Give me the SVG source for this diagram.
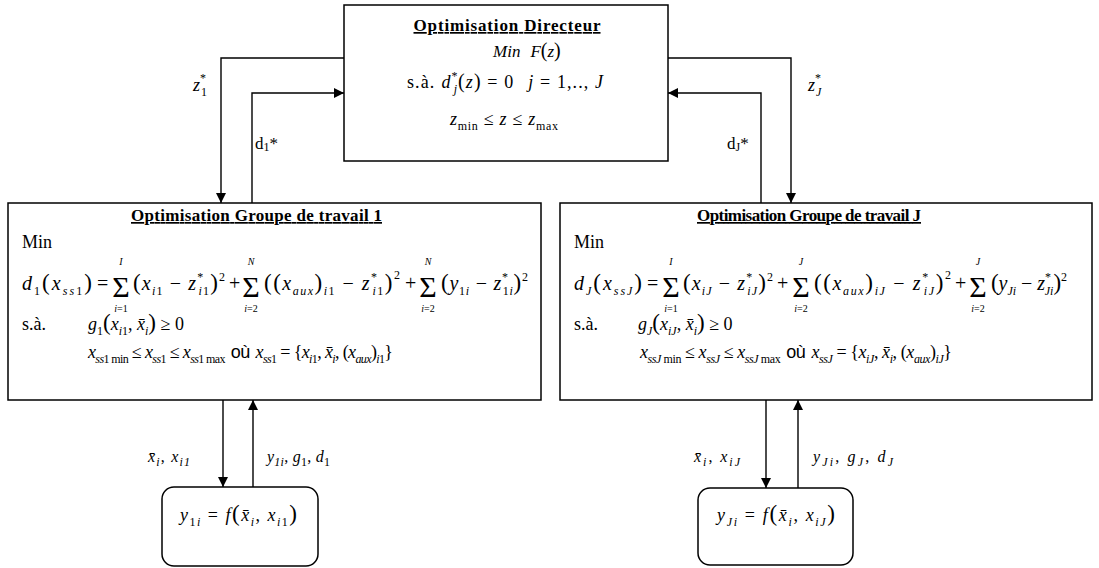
<svg xmlns="http://www.w3.org/2000/svg" width="1099" height="568" viewBox="0 0 1099 568">
<style>
text{font-family:"Liberation Serif","Times New Roman",serif;fill:#000}
.i{font-style:italic}
.m{font-size:20px}
.sb{font-size:12px}
.sp{font-size:12px}
.p{font-size:23px}
.sig{font-size:30px}
.lim{font-size:10px}
.ti{font-size:17px;font-weight:bold;text-decoration:underline}
.box{fill:#fff;stroke:#000;stroke-width:1.5}
.ln{fill:none;stroke:#000;stroke-width:1.4}
.sans{font-family:"Liberation Sans",Arial,sans-serif}
</style>
<defs>
<marker id="ah" markerUnits="userSpaceOnUse" markerWidth="10" markerHeight="10" refX="10" refY="5" orient="auto">
<path d="M0,0 L10,5 L0,10 z" fill="#000"/>
</marker>
</defs>
<rect width="1099" height="568" fill="#fff"/>

<g id="connectors">
<path class="ln" d="M344,58 H221 V203" marker-end="url(#ah)"/>
<path class="ln" d="M252,203 V93 H344" marker-end="url(#ah)"/>
<path class="ln" d="M668,58 H791 V203" marker-end="url(#ah)"/>
<path class="ln" d="M761,203 V93 H668" marker-end="url(#ah)"/>
<path class="ln" d="M223,400 V487" marker-end="url(#ah)"/>
<path class="ln" d="M253,487 V400" marker-end="url(#ah)"/>
<path class="ln" d="M766,400 V488" marker-end="url(#ah)"/>
<path class="ln" d="M798,488 V400" marker-end="url(#ah)"/>
<text x="193" y="91" class="i" font-size="18">z<tspan class="sp" dy="-9" font-style="normal">*</tspan><tspan class="sb" dx="-5" dy="14" font-style="normal">1</tspan></text>
<text x="255" y="149" font-size="17">d<tspan font-size="12" dy="2">1</tspan><tspan dy="-2">*</tspan></text>
<text x="808" y="91" class="i" font-size="18">z<tspan class="sp" dy="-9" font-style="normal">*</tspan><tspan class="sb" dx="-5" dy="14">J</tspan></text>
<text x="727" y="149" font-size="17">d<tspan font-size="12" dy="2">J</tspan><tspan dy="-2">*</tspan></text>
<text x="148" y="462" font-size="16" class="i" textLength="42" lengthAdjust="spacing">x̄<tspan class="sb" dy="4">i</tspan><tspan dy="-4" font-style="normal">, </tspan>x<tspan class="sb" dy="4">i1</tspan></text>
<text x="267" y="462" font-size="16" class="i" textLength="63" lengthAdjust="spacing">y<tspan class="sb" dy="4">1i</tspan><tspan dy="-4" font-style="normal">, </tspan>g<tspan class="sb" dy="4" font-style="normal">1</tspan><tspan dy="-4" font-style="normal">, </tspan>d<tspan class="sb" dy="4" font-style="normal">1</tspan></text>
<text x="694" y="462" font-size="16" class="i" textLength="46" lengthAdjust="spacing">x̄<tspan class="sb" dy="4">i</tspan><tspan dy="-4" font-style="normal">, </tspan>x<tspan class="sb" dy="4">iJ</tspan></text>
<text x="813" y="462" font-size="16" class="i" textLength="80" lengthAdjust="spacing">y<tspan class="sb" dy="4">Ji</tspan><tspan dy="-4" font-style="normal">, </tspan>g<tspan class="sb" dy="4">J</tspan><tspan dy="-4" font-style="normal">, </tspan>d<tspan class="sb" dy="4">J</tspan></text>
</g>

<g id="directeur">
<rect class="box" x="344" y="5" width="324" height="156"/>
<text class="ti" x="507" y="31" text-anchor="middle" textLength="187" lengthAdjust="spacing">Optimisation Directeur</text>
<text x="493" y="57" font-size="17"><tspan class="i">Min</tspan><tspan class="i" dx="10">F</tspan><tspan font-size="20">(</tspan><tspan class="i">z</tspan><tspan font-size="20">)</tspan></text>
<text x="407" y="88" font-size="18" textLength="196" lengthAdjust="spacing">s.à.<tspan class="i" dx="6">d</tspan><tspan class="sp" dy="-8">*</tspan><tspan class="sb i" dx="-5" dy="13">j</tspan><tspan dy="-5" font-size="20">(</tspan><tspan class="i">z</tspan><tspan font-size="20">)</tspan> = 0<tspan class="i" dx="14">j</tspan> = 1,.., <tspan class="i">J</tspan></text>
<text x="450" y="125" font-size="18" textLength="108" lengthAdjust="spacing"><tspan class="i">z</tspan><tspan class="sb" dy="5">min</tspan><tspan dy="-5"> ≤ </tspan><tspan class="i">z</tspan> ≤ <tspan class="i">z</tspan><tspan class="sb" dy="5">max</tspan></text>
</g>

<g id="groupe1">
<rect class="box" x="8" y="203" width="533" height="197"/>
<text class="ti" x="131" y="221" textLength="251" lengthAdjust="spacing">Optimisation Groupe de travail 1</text>
<text x="22" y="248" font-size="18">Min</text>
<text x="22" y="290" class="m" textLength="70" lengthAdjust="spacing"><tspan class="i">d</tspan><tspan class="sb" dy="5">1</tspan><tspan class="p" dy="-5">(</tspan><tspan class="i">x</tspan><tspan class="sb i" dy="5">ss</tspan><tspan class="sb">1</tspan><tspan class="p" dy="-5">)</tspan></text>
<text x="97" y="290" class="m">=</text>
<text x="121" y="297" class="sig" text-anchor="middle">Σ</text>
<text x="121" y="265" class="lim i" text-anchor="middle">I</text>
<text x="121" y="312" class="lim" text-anchor="middle"><tspan class="i">i</tspan>=1</text>
<text x="133" y="290" class="m" textLength="92" lengthAdjust="spacing"><tspan class="p">(</tspan><tspan class="i">x</tspan><tspan class="sb i" dy="5">i</tspan><tspan class="sb">1</tspan><tspan dy="-5"> − </tspan><tspan class="i">z</tspan><tspan class="sp" dy="-9">*</tspan><tspan class="sb i" dx="-6" dy="14">i</tspan><tspan class="sb">1</tspan><tspan class="p" dy="-5">)</tspan><tspan class="sp" dy="-9">2</tspan></text>
<text x="229" y="290" class="m">+</text>
<text x="251" y="297" class="sig" text-anchor="middle">Σ</text>
<text x="251" y="265" class="lim i" text-anchor="middle">N</text>
<text x="251" y="312" class="lim" text-anchor="middle"><tspan class="i">i</tspan>=2</text>
<text x="264" y="290" class="m" textLength="136" lengthAdjust="spacing"><tspan class="p">((</tspan><tspan class="i">x</tspan><tspan class="sb i" dy="5">aux</tspan><tspan class="p" dy="-5">)</tspan><tspan class="sb i" dy="5">i</tspan><tspan class="sb">1</tspan><tspan dy="-5"> − </tspan><tspan class="i">z</tspan><tspan class="sp" dy="-9">*</tspan><tspan class="sb i" dx="-6" dy="14">i</tspan><tspan class="sb">1</tspan><tspan class="p" dy="-5">)</tspan><tspan class="sp" dy="-11">2</tspan></text>
<text x="405" y="290" class="m">+</text>
<text x="428" y="297" class="sig" text-anchor="middle">Σ</text>
<text x="428" y="265" class="lim i" text-anchor="middle">N</text>
<text x="428" y="312" class="lim" text-anchor="middle"><tspan class="i">i</tspan>=2</text>
<text x="441" y="290" class="m" textLength="87" lengthAdjust="spacing"><tspan class="p">(</tspan><tspan class="i">y</tspan><tspan class="sb" dy="5">1</tspan><tspan class="sb i">i</tspan><tspan dy="-5"> − </tspan><tspan class="i">z</tspan><tspan class="sp" dy="-9">*</tspan><tspan class="sb" dx="-6" dy="14">1</tspan><tspan class="sb i">i</tspan><tspan class="p" dy="-5">)</tspan><tspan class="sp" dy="-9">2</tspan></text>
<text x="22" y="330" font-size="18">s.à.</text>
<text x="88" y="330" font-size="18"><tspan class="i">g</tspan><tspan class="sb" dy="5">1</tspan><tspan class="p" dy="-5">(</tspan><tspan class="i">x</tspan><tspan class="sb i" dy="5">i</tspan><tspan class="sb">1</tspan><tspan dy="-5">, </tspan><tspan class="i">x̄</tspan><tspan class="sb i" dy="5">i</tspan><tspan class="p" dy="-5">)</tspan> ≥ 0</text>
<text x="88" y="358" font-size="18" textLength="305" lengthAdjust="spacing"><tspan class="i">x</tspan><tspan class="sb i" dy="5">ss</tspan><tspan class="sb">1 min</tspan><tspan dy="-5"> ≤ </tspan><tspan class="i">x</tspan><tspan class="sb i" dy="5">ss</tspan><tspan class="sb">1</tspan><tspan dy="-5"> ≤ </tspan><tspan class="i">x</tspan><tspan class="sb i" dy="5">ss</tspan><tspan class="sb">1 max</tspan><tspan class="sans" dy="-5" dx="6">où</tspan><tspan class="i" dx="6">x</tspan><tspan class="sb i" dy="5">ss</tspan><tspan class="sb">1</tspan><tspan dy="-5"> = {</tspan><tspan class="i">x</tspan><tspan class="sb i" dy="5">i</tspan><tspan class="sb">1</tspan><tspan dy="-5">, </tspan><tspan class="i">x̄</tspan><tspan class="sb i" dy="5">i</tspan><tspan dy="-5">, (</tspan><tspan class="i">x</tspan><tspan class="sb i" dy="5">aux</tspan><tspan dy="-5">)</tspan><tspan class="sb i" dy="5">i</tspan><tspan class="sb">1</tspan><tspan dy="-5">}</tspan></text>
</g>

<g id="groupeJ">
<rect class="box" x="560" y="203" width="532" height="197"/>
<text class="ti" x="697" y="221" textLength="224" lengthAdjust="spacing">Optimisation Groupe de travail J</text>
<text x="574" y="248" font-size="18">Min</text>
<text x="574" y="290" class="m" textLength="68" lengthAdjust="spacing"><tspan class="i">d</tspan><tspan class="sb i" dy="5">J</tspan><tspan class="p" dy="-5">(</tspan><tspan class="i">x</tspan><tspan class="sb i" dy="5">ssJ</tspan><tspan class="p" dy="-5">)</tspan></text>
<text x="647" y="290" class="m">=</text>
<text x="671" y="297" class="sig" text-anchor="middle">Σ</text>
<text x="671" y="265" class="lim i" text-anchor="middle">I</text>
<text x="671" y="312" class="lim" text-anchor="middle"><tspan class="i">i</tspan>=1</text>
<text x="683" y="290" class="m" textLength="90" lengthAdjust="spacing"><tspan class="p">(</tspan><tspan class="i">x</tspan><tspan class="sb i" dy="5">iJ</tspan><tspan dy="-5"> − </tspan><tspan class="i">z</tspan><tspan class="sp" dy="-9">*</tspan><tspan class="sb i" dx="-6" dy="14">iJ</tspan><tspan class="p" dy="-5">)</tspan><tspan class="sp" dy="-9">2</tspan></text>
<text x="777" y="290" class="m">+</text>
<text x="801" y="297" class="sig" text-anchor="middle">Σ</text>
<text x="801" y="265" class="lim i" text-anchor="middle">J</text>
<text x="801" y="312" class="lim" text-anchor="middle"><tspan class="i">i</tspan>=2</text>
<text x="814" y="290" class="m" textLength="137" lengthAdjust="spacing"><tspan class="p">((</tspan><tspan class="i">x</tspan><tspan class="sb i" dy="5">aux</tspan><tspan class="p" dy="-5">)</tspan><tspan class="sb i" dy="5">iJ</tspan><tspan dy="-5"> − </tspan><tspan class="i">z</tspan><tspan class="sp" dy="-9">*</tspan><tspan class="sb i" dx="-6" dy="14">iJ</tspan><tspan class="p" dy="-5">)</tspan><tspan class="sp" dy="-11">2</tspan></text>
<text x="955" y="290" class="m">+</text>
<text x="978" y="297" class="sig" text-anchor="middle">Σ</text>
<text x="978" y="265" class="lim i" text-anchor="middle">J</text>
<text x="978" y="312" class="lim" text-anchor="middle"><tspan class="i">i</tspan>=2</text>
<text x="991" y="290" class="m" textLength="76" lengthAdjust="spacing"><tspan class="p">(</tspan><tspan class="i">y</tspan><tspan class="sb i" dy="5">Ji</tspan><tspan dy="-5"> − </tspan><tspan class="i">z</tspan><tspan class="sp" dy="-9">*</tspan><tspan class="sb i" dx="-6" dy="14">Ji</tspan><tspan class="p" dy="-5">)</tspan><tspan class="sp" dy="-9">2</tspan></text>
<text x="574" y="330" font-size="18">s.à.</text>
<text x="638" y="330" font-size="18"><tspan class="i">g</tspan><tspan class="sb i" dy="5">J</tspan><tspan class="p" dy="-5">(</tspan><tspan class="i">x</tspan><tspan class="sb i" dy="5">iJ</tspan><tspan dy="-5">, </tspan><tspan class="i">x̄</tspan><tspan class="sb i" dy="5">i</tspan><tspan class="p" dy="-5">)</tspan> ≥ 0</text>
<text x="640" y="358" font-size="18" textLength="312" lengthAdjust="spacing"><tspan class="i">x</tspan><tspan class="sb i" dy="5">ssJ</tspan><tspan class="sb"> min</tspan><tspan dy="-5"> ≤ </tspan><tspan class="i">x</tspan><tspan class="sb i" dy="5">ssJ</tspan><tspan dy="-5"> ≤ </tspan><tspan class="i">x</tspan><tspan class="sb i" dy="5">ssJ</tspan><tspan class="sb"> max</tspan><tspan class="sans" dy="-5" dx="6">où</tspan><tspan class="i" dx="6">x</tspan><tspan class="sb i" dy="5">ssJ</tspan><tspan dy="-5"> = {</tspan><tspan class="i">x</tspan><tspan class="sb i" dy="5">iJ</tspan><tspan dy="-5">, </tspan><tspan class="i">x̄</tspan><tspan class="sb i" dy="5">i</tspan><tspan dy="-5">, (</tspan><tspan class="i">x</tspan><tspan class="sb i" dy="5">aux</tspan><tspan dy="-5">)</tspan><tspan class="sb i" dy="5">iJ</tspan><tspan dy="-5">}</tspan></text>
</g>

<g id="modele1">
<rect class="box" x="162" y="487" width="156" height="79" rx="12"/>
<text x="180" y="521" font-size="18" textLength="117" lengthAdjust="spacing"><tspan class="i">y</tspan><tspan class="sb" dy="5">1</tspan><tspan class="sb i">i</tspan><tspan dy="-5"> = </tspan><tspan class="i">f</tspan><tspan class="p">(</tspan><tspan class="i">x̄</tspan><tspan class="sb i" dy="5">i</tspan><tspan dy="-5">, </tspan><tspan class="i">x</tspan><tspan class="sb i" dy="5">i</tspan><tspan class="sb">1</tspan><tspan class="p" dy="-5">)</tspan></text>
</g>

<g id="modeleJ">
<rect class="box" x="698" y="488" width="155" height="77" rx="12"/>
<text x="717" y="521" font-size="18" textLength="118" lengthAdjust="spacing"><tspan class="i">y</tspan><tspan class="sb i" dy="5">Ji</tspan><tspan dy="-5"> = </tspan><tspan class="i">f</tspan><tspan class="p">(</tspan><tspan class="i">x̄</tspan><tspan class="sb i" dy="5">i</tspan><tspan dy="-5">, </tspan><tspan class="i">x</tspan><tspan class="sb i" dy="5">iJ</tspan><tspan class="p" dy="-5">)</tspan></text>
</g>
</svg>
